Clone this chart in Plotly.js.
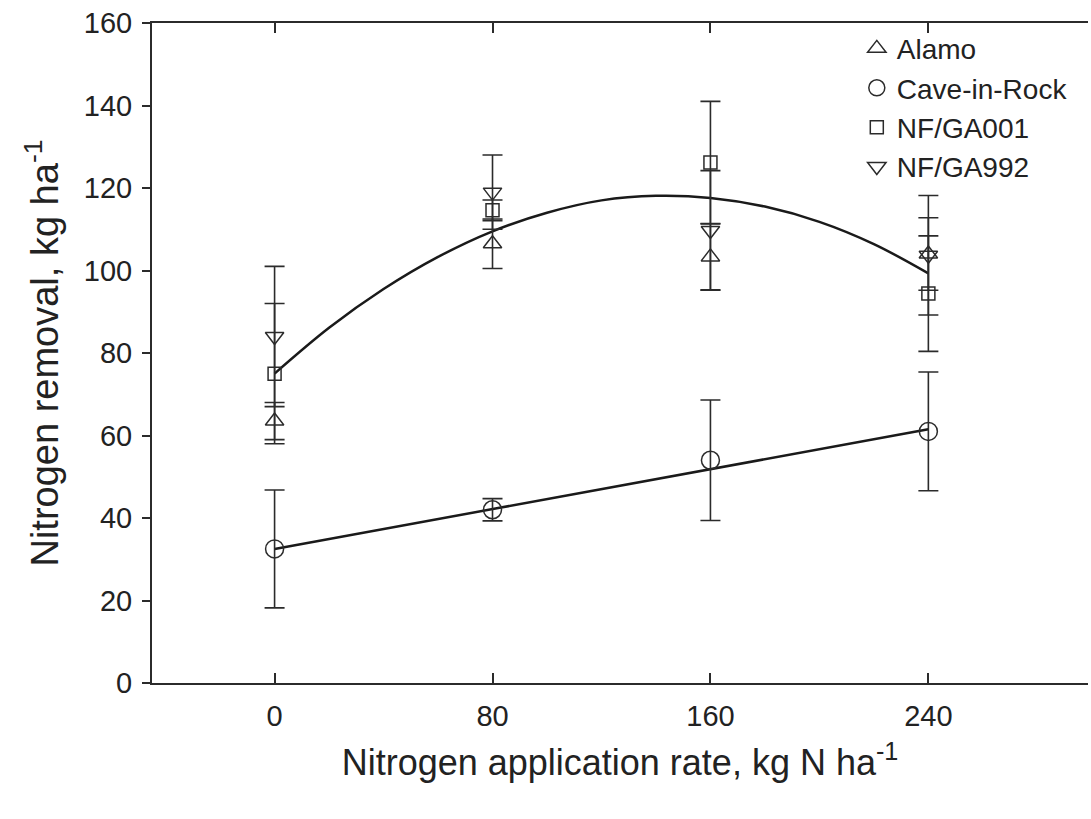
<!DOCTYPE html>
<html>
<head>
<meta charset="utf-8">
<script src="https://cdn.plot.ly/plotly-3.0.1.min.js"></script>
<style>html,body{margin:0;padding:0;background:#fff;}#chart{width:1091px;height:819px;}</style>
</head>
<body>
<div id="chart"></div>
<script>
// Nitrogen application rate (kg N/ha)
const rates = [0, 80, 160, 240];

// Nitrogen removal means (kg/ha) and error bar half-lengths
const alamo = [63.5, 106.5, 103.3, 104.0];
const alamoErr = [4.5, 6.0, 8.0, 8.8];
const caveInRock = [32.5, 42.0, 54.0, 61.0];
const caveErr = [14.3, 2.7, 14.6, 14.4];
const nfga001 = [75.0, 114.6, 126.2, 94.4];
const nfga001Err = [17.0, 2.5, 14.8, 14.0];
const nfga992 = [84.0, 119.0, 109.7, 103.7];
const nfga992Err = [17.0, 9.0, 14.5, 14.5];

// Fitted curves
const fitQuadX = [0, 20, 40, 60, 80, 100, 120, 140, 160, 180, 200, 220, 240];
const fitQuadY = [75.0, 86.1, 95.5, 103.3, 109.5, 114.0, 117.0, 118.1, 117.6, 115.5, 111.8, 106.4, 99.3];
const fitLinX = [0, 240];
const fitLinY = [32.5, 61.5];

const names = ['Alamo', 'Cave-in-Rock', 'NF/GA001', 'NF/GA992'];

const ink = '#2b2b2b';
const font = 'Liberation Sans, Arial, sans-serif';

function series(name, y, err, symbol, size) {
  return {
    type: 'scatter', mode: 'markers', name: name,
    x: rates, y: y,
    marker: {symbol: symbol, size: size, color: ink, line: {color: ink, width: 1.5}},
    error_y: {type: 'data', array: err, visible: true, color: ink, thickness: 1.6, width: 10},
    cliponaxis: false
  };
}

const data = [
  {type: 'scatter', mode: 'lines', x: fitQuadX, y: fitQuadY, line: {color: '#1a1a1a', width: 2.5, shape: 'spline'}, showlegend: false, hoverinfo: 'skip'},
  {type: 'scatter', mode: 'lines', x: fitLinX, y: fitLinY, line: {color: '#1a1a1a', width: 2.5}, showlegend: false, hoverinfo: 'skip'},
  series(names[0], alamo, alamoErr, 'triangle-up-open', 16),
  series(names[1], caveInRock, caveErr, 'circle-open', 18),
  series(names[2], nfga001, nfga001Err, 'square-open', 13),
  series(names[3], nfga992, nfga992Err, 'triangle-down-open', 16)
];

const layout = {
  width: 1091, height: 819,
  margin: {l: 152, r: 3, t: 23, b: 136},
  paper_bgcolor: '#fff', plot_bgcolor: '#fff',
  font: {family: font, color: '#222', size: 28},
  showlegend: true,
  legend: {x: 0.753, y: 0.999, xanchor: 'left', yanchor: 'top', bgcolor: 'rgba(0,0,0,0)',
           font: {family: font, size: 28, color: '#222'}, itemwidth: 30, tracegroupgap: 0},
  xaxis: {
    range: [-45, 298.6], tickvals: rates, ticktext: rates.map(String),
    ticks: 'inside', ticklen: 10, tickwidth: 2, tickcolor: ink,
    showline: true, linecolor: ink, linewidth: 2, mirror: 'ticks',
    showgrid: false, zeroline: false, ticklabelstandoff: 6,
    tickfont: {family: font, size: 29, color: '#222'},
    title: {text: 'Nitrogen application rate, kg N ha<sup>-1</sup>', font: {family: font, size: 36, color: '#222'}, standoff: 19}
  },
  yaxis: {
    range: [0, 160], dtick: 20,
    ticks: 'outside', ticklen: 8, tickwidth: 2, tickcolor: ink,
    showline: true, linecolor: ink, linewidth: 2,
    showgrid: false, zeroline: false, ticklabelstandoff: 4,
    tickfont: {family: font, size: 29, color: '#222'},
    title: {text: 'Nitrogen removal, kg ha<sup>-1</sup>', font: {family: font, size: 38, color: '#222'}, standoff: 14}
  },
  yaxis2: {
    range: [0, 160], dtick: 20, overlaying: 'y', side: 'right',
    ticks: 'inside', ticklen: 8, tickwidth: 2, tickcolor: ink,
    showline: true, linecolor: ink, linewidth: 2,
    showticklabels: false, showgrid: false, zeroline: false
  }
};

Plotly.newPlot('chart', data, layout, {displayModeBar: false, staticPlot: true});
</script>
</body>
</html>
